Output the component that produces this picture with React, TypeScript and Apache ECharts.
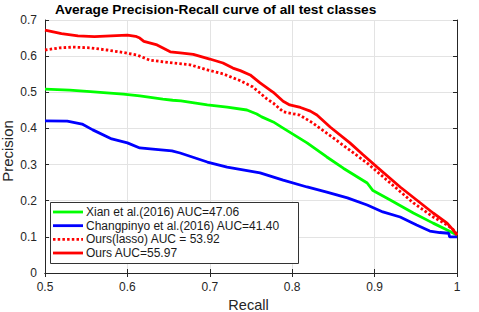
import React, { useEffect, useRef } from "react";
import * as echarts from "echarts";

const titleText = "Average Precision-Recall curve of all test classes";
const xAxisName = "Recall";
const yAxisName = "Precision";
const seriesNames = [
  "Xian et al.(2016) AUC=47.06",
  "Changpinyo et al.(2016) AUC=41.40",
  "Ours(lasso) AUC = 53.92",
  "Ours AUC=55.97",
];
const seriesColors = ["#00ff00", "#0000ff", "#ff0000", "#ff0000"];

const xianData: number[][] = [
  [0.5, 0.509], [0.53, 0.506], [0.555, 0.502], [0.595, 0.495], [0.615, 0.49],
  [0.643, 0.481], [0.655, 0.478], [0.665, 0.476], [0.697, 0.465], [0.721, 0.459],
  [0.745, 0.451], [0.757, 0.44], [0.763, 0.432], [0.777, 0.418], [0.789, 0.401],
  [0.818, 0.36], [0.842, 0.321], [0.862, 0.29], [0.891, 0.249], [0.898, 0.228],
  [0.919, 0.202], [0.947, 0.166], [0.971, 0.138], [0.988, 0.119], [1.0, 0.105],
];

const changData: number[][] = [
  [0.5, 0.421], [0.527, 0.42], [0.545, 0.412], [0.558, 0.396], [0.581, 0.371],
  [0.6, 0.36], [0.615, 0.346], [0.631, 0.343], [0.654, 0.338], [0.664, 0.332],
  [0.697, 0.307], [0.721, 0.293], [0.761, 0.277], [0.789, 0.257], [0.818, 0.238],
  [0.842, 0.224], [0.867, 0.208], [0.891, 0.188], [0.91, 0.169], [0.931, 0.155],
  [0.951, 0.133], [0.967, 0.116], [0.979, 0.112], [0.99, 0.11], [0.991, 0.1],
  [1.0, 0.1],
];

const lassoData: number[][] = [
  [0.5, 0.617], [0.518, 0.623], [0.534, 0.625], [0.555, 0.623], [0.575, 0.617],
  [0.595, 0.61], [0.612, 0.603], [0.627, 0.589], [0.655, 0.581], [0.676, 0.576],
  [0.697, 0.562], [0.716, 0.551], [0.737, 0.532], [0.752, 0.515], [0.761, 0.498],
  [0.769, 0.482], [0.777, 0.47], [0.789, 0.446], [0.809, 0.437], [0.825, 0.415],
  [0.858, 0.36], [0.891, 0.304], [0.919, 0.249], [0.947, 0.194], [0.971, 0.155],
  [0.988, 0.133], [0.998, 0.115], [1.0, 0.105],
];

const oursData: number[][] = [
  [0.5, 0.672], [0.51, 0.667], [0.52, 0.662], [0.54, 0.656], [0.56, 0.654],
  [0.58, 0.656], [0.6, 0.658], [0.61, 0.655], [0.615, 0.65], [0.62, 0.641],
  [0.636, 0.631], [0.652, 0.612], [0.664, 0.609], [0.68, 0.605], [0.7, 0.592],
  [0.716, 0.581], [0.728, 0.567], [0.737, 0.56], [0.749, 0.548], [0.761, 0.526],
  [0.777, 0.5], [0.789, 0.475], [0.797, 0.465], [0.81, 0.458], [0.822, 0.448],
  [0.83, 0.437], [0.846, 0.404], [0.87, 0.36], [0.886, 0.327], [0.903, 0.293],
  [0.931, 0.238], [0.951, 0.202], [0.971, 0.166], [0.988, 0.138], [0.995, 0.12],
  [1.0, 0.105],
];

const xTickLabels = ["0.5", "0.6", "0.7", "0.8", "0.9", "1"];
const yTickLabels = ["0", "0.1", "0.2", "0.3", "0.4", "0.5", "0.6", "0.7"];

const FONT = "'Liberation Sans', Arial, Helvetica, sans-serif";
const AX = "#262626";
const DOT: number[] = [2.5, 2.2];

export default function App() {
  const ref = useRef<HTMLDivElement>(null);
  useEffect(() => {
    if (!ref.current) return;
    const chart = echarts.init(ref.current, null, { renderer: "svg" });
    const xFmt = (v: number) => xTickLabels[Math.round((v - 0.5) / 0.1)] ?? "";
    const yFmt = (v: number) => yTickLabels[Math.round(v / 0.1)] ?? "";
    const baseAxis = {
      axisLine: { show: true, lineStyle: { color: AX, width: 1 } },
      axisTick: { show: true, inside: true, length: 4, lineStyle: { color: AX } },
    };
    const legendTop = 212;
    const legendPitch = 13.67;
    const graphics: any[] = [
      {
        type: "rect",
        z: 10,
        shape: { x: 50.5, y: 202.5, width: 248, height: 61 },
        style: { fill: "#ffffff", stroke: "#333333", lineWidth: 1 },
      },
      {
        type: "text",
        z: 11,
        x: 248.5,
        y: 305,
        style: {
          text: xAxisName,
          fontFamily: FONT,
          fontSize: 14.5,
          fill: AX,
          align: "center",
          verticalAlign: "middle",
        },
      },
      {
        type: "text",
        z: 11,
        x: 7.5,
        y: 151,
        rotation: Math.PI / 2,
        style: {
          text: yAxisName,
          fontFamily: FONT,
          fontSize: 15,
          fill: AX,
          align: "center",
          verticalAlign: "middle",
        },
      },
    ];
    seriesNames.forEach((name, i) => {
      const y = legendTop + i * legendPitch;
      graphics.push({
        type: "line",
        z: 11,
        shape: { x1: 53, y1: y, x2: 83, y2: y },
        style: {
          stroke: seriesColors[i],
          lineWidth: 2.8,
          lineDash: i === 2 ? DOT : null,
        },
      });
      graphics.push({
        type: "text",
        z: 11,
        x: 86,
        y: y,
        style: {
          text: name,
          fontFamily: FONT,
          fontSize: 12,
          fill: "#1a1a1a",
          verticalAlign: "middle",
          align: "left",
        },
      });
    });
    chart.setOption({
      animation: false,
      backgroundColor: "#ffffff",
      title: {
        text: titleText,
        left: 55,
        top: 2,
        padding: 0,
        textStyle: { fontFamily: FONT, fontSize: 13.7, fontWeight: "bold", color: "#000" },
      },
      grid: {
        left: 45,
        right: 22,
        top: 20,
        bottom: 39,
        containLabel: false,
        outerBoundsMode: "none",
      },
      xAxis: [
        {
          type: "value",
          min: 0.5,
          max: 1,
          interval: 0.1,
          ...baseAxis,
          axisLabel: { formatter: xFmt, fontFamily: FONT, fontSize: 12, color: AX, margin: 8 },
          splitLine: { show: true, lineStyle: { color: "#e3e3e3", width: 1 } },
        },
        {
          type: "value",
          position: "top",
          min: 0.5,
          max: 1,
          interval: 0.1,
          ...baseAxis,
          axisLabel: { show: false },
          splitLine: { show: false },
        },
      ],
      yAxis: [
        {
          type: "value",
          min: 0,
          max: 0.7,
          interval: 0.1,
          ...baseAxis,
          axisLabel: { formatter: yFmt, fontFamily: FONT, fontSize: 12, color: AX, margin: 8 },
          splitLine: { show: true, lineStyle: { color: "#e3e3e3", width: 1 } },
        },
        {
          type: "value",
          position: "right",
          min: 0,
          max: 0.7,
          interval: 0.1,
          ...baseAxis,
          axisLabel: { show: false },
          splitLine: { show: false },
        },
      ],
      graphic: graphics,
      series: [
        {
          name: seriesNames[0],
          type: "line",
          data: xianData,
          symbol: "none",
          lineStyle: { color: seriesColors[0], width: 2.8 },
        },
        {
          name: seriesNames[1],
          type: "line",
          data: changData,
          symbol: "none",
          lineStyle: { color: seriesColors[1], width: 2.8 },
        },
        {
          name: seriesNames[2],
          type: "line",
          data: lassoData,
          symbol: "none",
          lineStyle: { color: seriesColors[2], width: 2.8, type: DOT },
        },
        {
          name: seriesNames[3],
          type: "line",
          data: oursData,
          symbol: "none",
          lineStyle: { color: seriesColors[3], width: 2.8 },
        },
      ],
    });
    return () => chart.dispose();
  }, []);
  return (
    <div
      ref={ref}
      style={{ position: "fixed", left: 0, top: 0, width: 479, height: 312, background: "#fff" }}
    />
  );
}
